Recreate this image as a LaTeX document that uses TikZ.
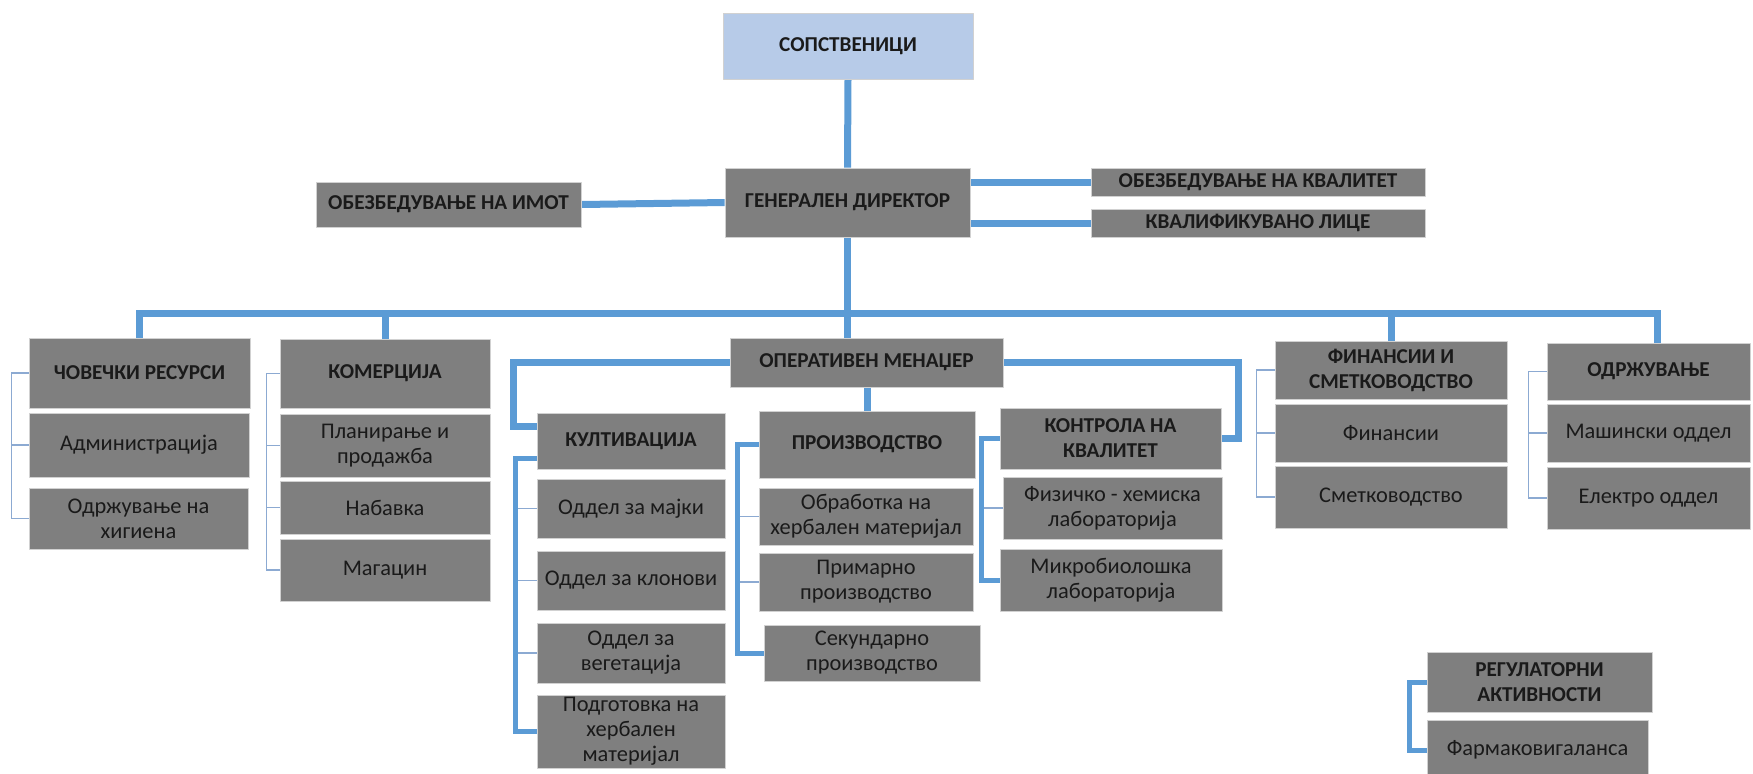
\documentclass[tikz,border=0pt]{standalone}
\usepackage{fontspec}
\setmainfont{Carlito}
\usetikzlibrary{backgrounds}
\definecolor{zbpbdz}{rgb}{0.3568627450980392,0.6078431372549019,0.8352941176470589}
\definecolor{ocaade}{rgb}{0.5490196078431373,0.6666666666666666,0.8235294117647058}
\definecolor{ififif}{rgb}{0.4980392156862745,0.4980392156862745,0.4980392156862745}
\definecolor{bicbeo}{rgb}{0.7176470588235294,0.796078431372549,0.9098039215686274}
\definecolor{wawawa}{rgb}{0.10196078431372549,0.10196078431372549,0.10196078431372549}
\begin{document}
\begin{tikzpicture}[line cap=round,line join=round,x=0.5pt,y=0.5pt,
  orgbox/.style={fill=ififif,draw=white!82!black,line width=0.4pt,inner sep=0pt,align=center,text=wawawa},
  headbox/.style={orgbox,font=\fontsize{10.6}{12.5}\selectfont\bfseries},
  itembox/.style={orgbox,font=\fontsize{11.2}{12.5}\selectfont},
  sz/.style 2 args={minimum width=#1*0.5pt,minimum height=#2*0.5pt},
  mainline/.style={color=zbpbdz,line width=3.5pt},
  subline/.style={color=zbpbdz,line width=2.5pt},
  thinline/.style={color=ocaade,line width=0.7pt}]
\useasboundingbox (0,0) rectangle (1753,-773);
% top of the chart
\node[headbox,fill=bicbeo,sz={250}{66}] (sop) at (848,-46) {СОПСТВЕНИЦИ};
\node[headbox,sz={245}{69}] (gd) at (847.5,-202.5) {ГЕНЕРАЛЕН ДИРЕКТОР};
\node[headbox,sz={265}{45}] (imot) at (448.5,-204.5) {ОБЕЗБЕДУВАЊЕ НА ИМОТ};
\node[headbox,sz={334}{28}] (kval) at (1258,-182) {ОБЕЗБЕДУВАЊЕ НА КВАЛИТЕТ};
\node[headbox,sz={334}{28}] (lice) at (1258,-223) {КВАЛИФИКУВАНО ЛИЦЕ};
\coordinate (bus) at (848,-313);
% human resources
\node[headbox,sz={221}{70}] (hr) at (139.5,-373) {ЧОВЕЧКИ РЕСУРСИ};
\node[itembox,sz={220}{64}] (adm) at (139,-445) {Администрација};
\node[itembox,sz={219}{61}] (hig) at (138.5,-518.5) {Одржување на\\хигиена};
% commerce
\node[headbox,sz={210}{69}] (kom) at (385,-373.5) {КОМЕРЦИЈА};
\node[itembox,sz={210}{63}] (plan) at (385,-445.5) {Планирање и\\продажба};
\node[itembox,sz={210}{53}] (nab) at (385,-507.5) {Набавка};
\node[itembox,sz={210}{62}] (mag) at (385,-570) {Магацин};
% operations
\node[headbox,sz={273}{49}] (om) at (866.5,-362.5) {ОПЕРАТИВЕН МЕНАЏЕР};
\node[headbox,sz={188}{56}] (kult) at (631,-441) {КУЛТИВАЦИЈА};
\node[itembox,sz={188}{59}] (majki) at (631,-508.5) {Оддел за мајки};
\node[itembox,sz={188}{59}] (klon) at (631,-580.5) {Оддел за клонови};
\node[itembox,sz={188}{60}] (veg) at (631,-653) {Оддел за\\вегетација};
\node[itembox,sz={188}{73}] (podg) at (631,-731.5) {Подготовка на\\хербален\\материјал};
\node[headbox,sz={216}{67}] (proiz) at (867,-444.5) {ПРОИЗВОДСТВО};
\node[itembox,sz={214}{57}] (obrab) at (866,-516.5) {Обработка на\\хербален материјал};
\node[itembox,sz={214}{58}] (prim) at (866,-582) {Примарно\\производство};
\node[itembox,sz={216}{56}] (sek) at (872,-653) {Секундарно\\производство};
\node[headbox,sz={221}{61}] (kontr) at (1110.5,-438.5) {КОНТРОЛА НА\\КВАЛИТЕТ};
\node[itembox,sz={219}{62}] (fiz) at (1112.5,-508) {Физичко - хемиска\\лабораторија};
\node[itembox,sz={222}{62}] (mikro) at (1111,-580) {Микробиолошка\\лабораторија};
% finance
\node[headbox,sz={232}{58}] (fin) at (1391,-370) {ФИНАНСИИ И\\СМЕТКОВОДСТВО};
\node[itembox,sz={232}{58}] (finans) at (1391,-433) {Финансии};
\node[itembox,sz={232}{62}] (smet) at (1391,-497) {Сметководство};
% maintenance
\node[headbox,sz={203}{57}] (odr) at (1648.5,-371.5) {ОДРЖУВАЊЕ};
\node[itembox,sz={203}{58}] (mash) at (1648.5,-433) {Машински оддел};
\node[itembox,sz={203}{62}] (elek) at (1648.5,-498) {Електро оддел};
% regulatory
\node[headbox,sz={225}{60}] (reg) at (1539.5,-682) {РЕГУЛАТОРНИ\\АКТИВНОСТИ};
\node[itembox,sz={221}{60}] (farm) at (1537.5,-750) {Фармаковигаланса};
\begin{pgfonlayer}{background}
\draw[mainline] (sop.south) -- (gd.north);
\draw[mainline] (gd.west) -- (imot.east);
\draw[mainline] (gd.east |- kval.west) -- (kval.west);
\draw[mainline] (gd.east |- lice.west) -- (lice.west);
\draw[mainline] (gd.south) -- (gd.south |- om.north);
\draw[mainline] (hr.north) |- (bus) -| ([xshift=4.5pt]odr.north);
\draw[mainline] (kom.north) -- (kom.north |- bus);
\draw[mainline] (fin.north) -- (fin.north |- bus);
\draw[mainline] (om.west) -| ([xshift=-11.5pt,yshift=7.5pt]kult.west) -- ([yshift=7.5pt]kult.west);
\draw[mainline] (om.east) -| ([xshift=8.5pt]kontr.east) -- (kontr.east);
\draw[mainline] (proiz.north) -- (proiz.north |- om.south);
% thin side lines
\draw[thinline] (hr.west) -- ++(-8.5pt,0) |- (hig.west);
\draw[thinline] (adm.west) -- ++(-8.5pt,0);
\draw[thinline] (kom.west) -- ++(-6.5pt,0) |- (mag.west);
\draw[thinline] (plan.west) -- ++(-6.5pt,0);
\draw[thinline] (nab.west) -- ++(-6.5pt,0);
\draw[thinline] (majki.west) -- ++(-10.5pt,0);
\draw[thinline] (klon.west) -- ++(-10.5pt,0);
\draw[thinline] (veg.west) -- ++(-10.5pt,0);
\draw[thinline] (obrab.west) -- ++(-10pt,0);
\draw[thinline] (prim.west) -- ++(-10pt,0);
\draw[thinline] (fiz.west) -- ++(-10.5pt,0);
\draw[thinline] (fin.west) -- ++(-9pt,0) |- (smet.west);
\draw[thinline] (finans.west) -- ++(-9pt,0);
\draw[thinline] (odr.west) -- ++(-9pt,0) |- (elek.west);
\draw[thinline] (mash.west) -- ++(-9pt,0);
% thick side lines
\draw[subline] ([yshift=-8.5pt]kult.west) -- ++(-10.5pt,0) |- (podg.west);
\draw[subline] (proiz.west) -- ++(-10.5pt,0) |- (sek.west);
\draw[subline] (kontr.west) -- ++(-9pt,0) |- (mikro.west);
\draw[subline] (reg.west) -- ++(-8.5pt,0) |- (farm.west);
\end{pgfonlayer}
\end{tikzpicture}
\end{document}
